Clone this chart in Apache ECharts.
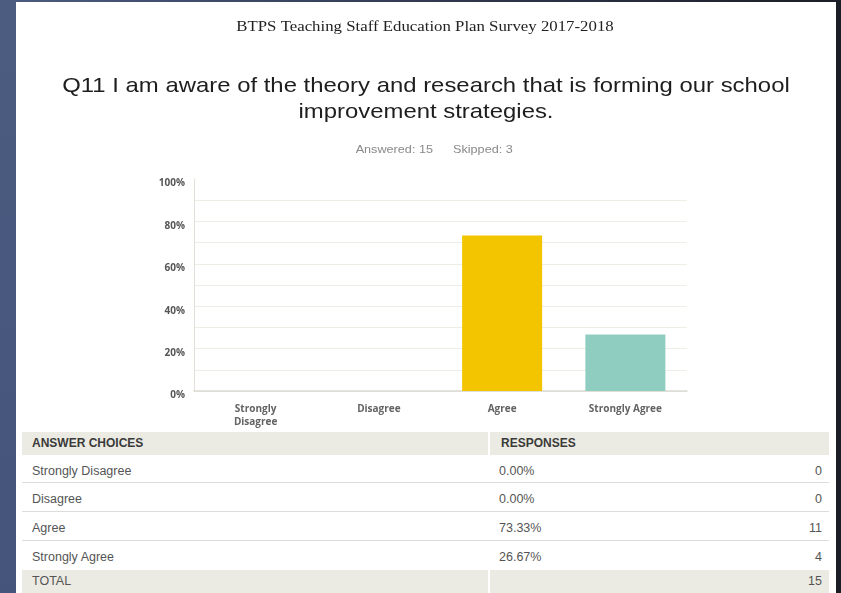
<!DOCTYPE html>
<html>
<head>
<meta charset="utf-8">
<title>BTPS Teaching Staff Education Plan Survey 2017-2018 – Q11</title>
<script src="https://cdn.jsdelivr.net/npm/echarts@6/dist/echarts.min.js"></script>
<style>
  html, body { margin: 0; padding: 0; }
  body {
    width: 841px; height: 593px; position: relative; overflow: hidden;
    background: #1b1e27;
  }
  #leftStrip {
    position: absolute; left: 0; top: 0; width: 16px; height: 593px;
    background: linear-gradient(180deg, #4c5b80 0%, #45547a 100%);
  }
  #topStrip {
    position: absolute; left: 0; top: 0; width: 841px; height: 2px;
    background: linear-gradient(90deg, #4c5b80 0%, #2c3448 60%, #1b1e27 100%);
  }
  #page {
    position: absolute; left: 16px; top: 2px; width: 820px; height: 591px;
    background: #ffffff;
  }
  #chart {
    position: absolute; left: 0; top: 0; width: 841px; height: 430px;
  }
  #tbl {
    position: absolute; left: 22px; top: 432px; width: 807px;
    font-family: "Liberation Sans", Arial, sans-serif; font-size: 12.5px;
  }
  .row { position: relative; display: flex; }
  .cell { position: relative; box-sizing: border-box; overflow: visible; }
  .c1 { width: 466px; padding-left: 10px; }
  .c2 { width: 341px; padding-left: 11px; padding-right: 7px; display: flex; justify-content: space-between; }
  .head .cell { background: #ecebe3; height: 23px; line-height: 23px; color: #3a3a3a; font-weight: bold; font-size: 12px; }
  .head .c2, .total .c2 { border-left: 2px solid #ffffff; }
  .body .cell { height: 29px; line-height: 33px; color: #555555; border-bottom: 1px solid #dcdcd8; }
  .body.first .cell { height: 28px; }
  .body.last .cell { border-bottom: none; }
  .total .cell { background: #ecebe3; height: 23px; line-height: 23px; color: #555555; }
</style>
</head>
<body>
<div id="leftStrip"></div>
<div id="topStrip"></div>
<div id="page"></div>
<div id="chart"></div>
<div id="tbl"></div>
<script>
// Survey question and response data
const surveyHeading = 'BTPS Teaching Staff Education Plan Survey 2017-2018';
const questionLines = ['Q11 I am aware of the theory and research that is forming our school', 'improvement strategies.'];
const answeredCount = 15;
const skippedCount = 3;

const categories = ['Strongly Disagree', 'Disagree', 'Agree', 'Strongly Agree'];
const axisCategoryLabels = ['Strongly\nDisagree', 'Disagree', 'Agree', 'Strongly Agree'];
const percentValues = [0, 0, 73.33, 26.67];
const responseCounts = [0, 0, 11, 4];
const yTickLabels = ['0%', '20%', '40%', '60%', '80%', '100%'];

// Bar fill per answer choice
const barPalette = ['#9e9e9e', '#b0b0b0', '#f2c500', '#8fcdc0'];

const chart = echarts.init(document.getElementById('chart'), null, { renderer: 'canvas' });

// Light grid every 10%, none on the 100% line
const gridColors = [];
for (let i = 0; i <= 10; i++) gridColors.push(i === 10 ? 'rgba(0,0,0,0)' : '#eeede6');

const SANS = '"Liberation Sans", Arial, sans-serif';

chart.setOption({
  animation: false,
  backgroundColor: 'transparent',
  graphic: [
    {
      type: 'text', x: 425, y: 27, scaleX: 1.12,
      style: { text: surveyHeading, font: '15px "Liberation Serif", "Times New Roman", serif', fill: '#222222', textAlign: 'center', textVerticalAlign: 'middle' }
    },
    {
      type: 'text', x: 426, y: 86, scaleX: 1.138,
      style: { text: questionLines[0], font: '21px ' + SANS, fill: '#1e1e1e', textAlign: 'center', textVerticalAlign: 'middle' }
    },
    {
      type: 'text', x: 426, y: 112, scaleX: 1.138,
      style: { text: questionLines[1], font: '21px ' + SANS, fill: '#1e1e1e', textAlign: 'center', textVerticalAlign: 'middle' }
    },
    {
      type: 'text', x: 433, y: 150, scaleX: 1.15,
      style: { text: 'Answered: ' + answeredCount, font: '11px ' + SANS, fill: '#8a8a8a', textAlign: 'right', textVerticalAlign: 'middle' }
    },
    {
      type: 'text', x: 453, y: 150, scaleX: 1.15,
      style: { text: 'Skipped: ' + skippedCount, font: '11px ' + SANS, fill: '#8a8a8a', textAlign: 'left', textVerticalAlign: 'middle' }
    }
  ],
  grid: { left: 194, right: 154, top: 179, bottom: 39, containLabel: false },
  xAxis: {
    type: 'category',
    data: axisCategoryLabels,
    axisLine: { show: true, lineStyle: { color: '#dcdad2', width: 1.5 } },
    axisTick: { show: false },
    axisLabel: {
      margin: 12, interval: 0,
      fontFamily: '"Open Sans", sans-serif', fontWeight: 700, fontSize: 10,
      color: '#636363', lineHeight: 13, verticalAlign: 'top'
    }
  },
  yAxis: {
    type: 'value', min: 0, max: 100, interval: 10,
    axisLine: { show: true, lineStyle: { color: '#e2e0d6', width: 1 } },
    axisTick: { show: false },
    splitLine: { show: true, lineStyle: { color: gridColors, width: 1 } },
    axisLabel: {
      margin: 9,
      fontFamily: '"Open Sans", sans-serif', fontWeight: 700, fontSize: 10,
      color: '#555555', verticalAlign: 'top', lineHeight: 9,
      formatter: function (v) { return v % 20 === 0 ? yTickLabels[v / 20] : ''; }
    }
  },
  series: [{
    type: 'bar',
    name: 'Responses',
    data: percentValues.map(function (v, i) {
      return { value: v, itemStyle: { color: barPalette[i] } };
    }),
    barWidth: 80
  }]
});

// Answer-choice table below the chart
const tbl = document.getElementById('tbl');
function addRow(cls, left, mid, right) {
  const row = document.createElement('div');
  row.className = 'row ' + cls;
  const a = document.createElement('div'); a.className = 'cell c1'; a.textContent = left;
  const b = document.createElement('div'); b.className = 'cell c2';
  const s1 = document.createElement('span'); s1.textContent = mid;
  const s2 = document.createElement('span'); s2.textContent = right;
  b.appendChild(s1); b.appendChild(s2);
  row.appendChild(a); row.appendChild(b);
  tbl.appendChild(row);
}
addRow('head', 'ANSWER CHOICES', 'RESPONSES', '');
categories.forEach(function (c, i) {
  let cls = 'body';
  if (i === 0) cls += ' first';
  if (i === categories.length - 1) cls += ' last';
  addRow(cls, c, percentValues[i].toFixed(2) + '%', String(responseCounts[i]));
});
addRow('total', 'TOTAL', '', String(responseCounts.reduce(function (a, b) { return a + b; }, 0)));
</script>
</body>
</html>
